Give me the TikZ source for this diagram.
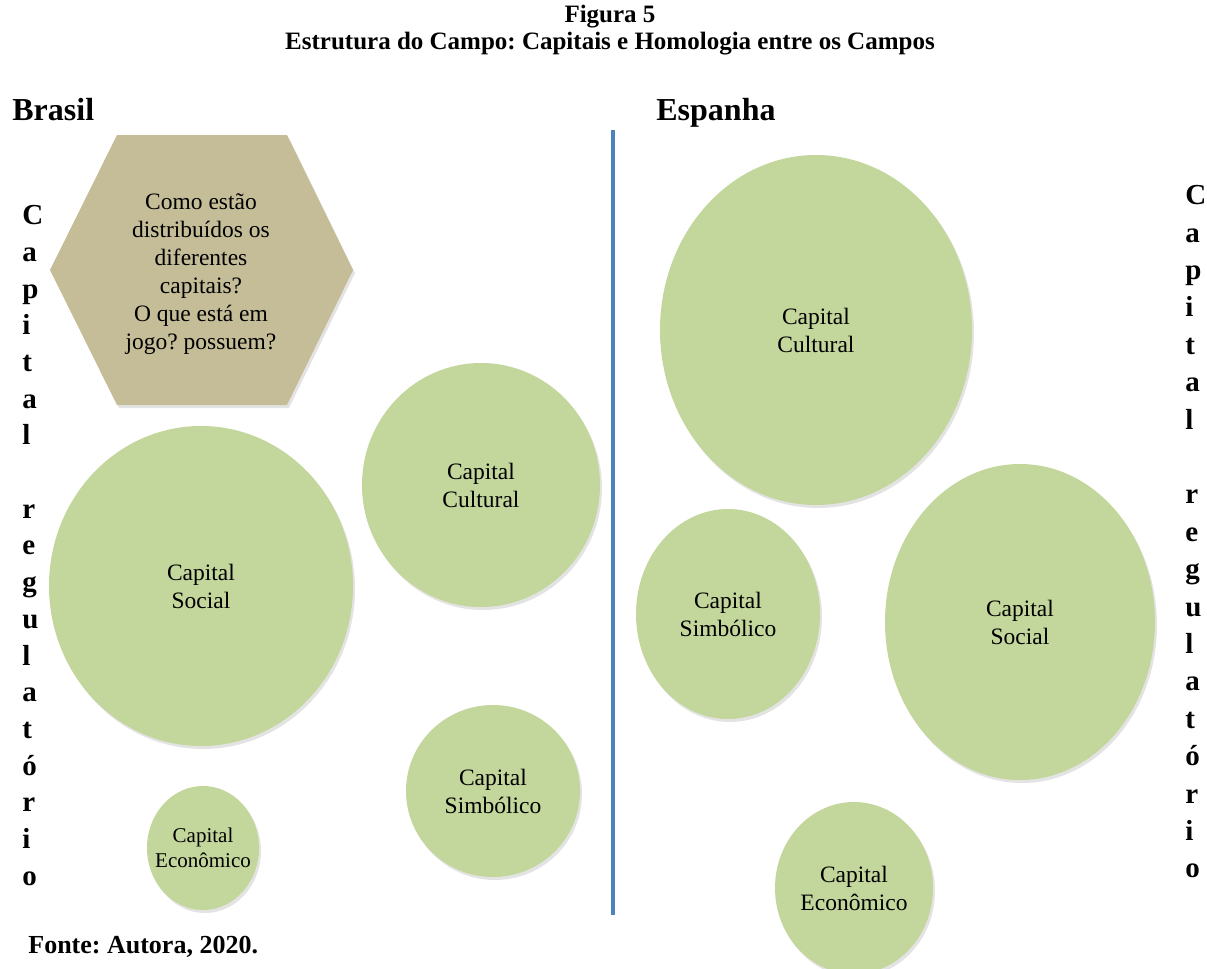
\documentclass[tikz,border=0pt]{standalone}
\usepackage{fontspec}
\setmainfont{Liberation Serif}
\frenchspacing
\usetikzlibrary{shapes.geometric, shadows}

\definecolor{capgreen}{HTML}{C3D69B}
\definecolor{hextan}{HTML}{C4BD97}
\definecolor{divblue}{HTML}{4F81BD}

\begin{document}
\begin{tikzpicture}[x=0.5pt,y=-0.5pt,
  capital/.style={shape=ellipse,fill=capgreen,inner sep=0pt,align=center,
    font=\fontsize{11.75}{14}\selectfont,
    drop shadow={shadow xshift=1pt,shadow yshift=-1.5pt,opacity=0.22}},
  heading/.style={font=\bfseries\fontsize{16}{19}\selectfont,anchor=base west,inner sep=0pt},
  titleline/.style={font=\bfseries\fontsize{12.5}{13.5}\selectfont,anchor=base,inner sep=0pt},
  letters/.style={font=\bfseries\fontsize{14.5}{18.35}\selectfont,align=left,anchor=north west,inner sep=0pt}]
  \useasboundingbox (0,0) rectangle (1207,969);
  % titulo
  \node[titleline] (fig) at (610,23) {Figura 5};
  \node[titleline] (titulo) at (610,49) {Estrutura do Campo: Capitais e Homologia entre os Campos};
  \node[heading] (brasil) at (12,120) {Brasil};
  \node[heading] (espanha) at (656,120) {Espanha};
  % hexagono
  \fill[hextan,drop shadow={shadow xshift=1pt,shadow yshift=-1.5pt,opacity=0.22}]
    (50,270) -- (117,135) -- (287,135) -- (353,270) -- (287,405) -- (117,405) -- cycle;
  \node[align=center,font=\fontsize{11.75}{14}\selectfont] (pergunta) at (201,274)
    {Como estão\\distribuídos os\\diferentes\\capitais?\\O que está em\\jogo? possuem?};
  % Brasil
  \node[capital,minimum width=152pt,minimum height=160pt] (socialBR) at (201,586) {Capital\\Social};
  \node[capital,minimum width=119pt,minimum height=122pt] (culturalBR) at (481,485) {Capital\\Cultural};
  \node[capital,minimum width=87pt,minimum height=86pt] (simbolicoBR) at (493,791) {Capital\\Simbólico};
  \node[capital,minimum width=56pt,minimum height=62pt,inner xsep=-5pt,font=\fontsize{10.5}{12.5}\selectfont] (economicoBR) at (203,848) {Capital\\Econômico};
  % Espanha
  \node[capital,minimum width=156pt,minimum height=175pt] (culturalES) at (816,330) {Capital\\Cultural};
  \node[capital,minimum width=92pt,minimum height=105pt] (simbolicoES) at (728,614) {Capital\\Simbólico};
  \node[capital,minimum width=135pt,minimum height=158pt] (socialES) at (1020,622) {Capital\\Social};
  \node[capital,minimum width=79pt,minimum height=86pt] (economicoES) at (854,888) {Capital\\Econômico};
  % divisao
  \coordinate (divtop) at (613,130);
  \coordinate (divbot) at (613,915);
  \draw[divblue,line width=2pt] (divtop) -- (divbot);
  % capital regulatorio
  \node[letters] (regBR) at (22,205) {C\\a\\p\\i\\t\\a\\l\\\mbox{}\\r\\e\\g\\u\\l\\a\\t\\ó\\r\\i\\o};
  \node[letters,font=\bfseries\fontsize{14.5}{18.7}\selectfont] (regES) at (1185,185) {C\\a\\p\\i\\t\\a\\l\\\mbox{}\\r\\e\\g\\u\\l\\a\\t\\ó\\r\\i\\o};
  \node[font=\bfseries\fontsize{13}{15}\selectfont,anchor=base west,inner sep=0pt] (fonte) at (28,953) {Fonte: Autora, 2020.};
\end{tikzpicture}
\end{document}
